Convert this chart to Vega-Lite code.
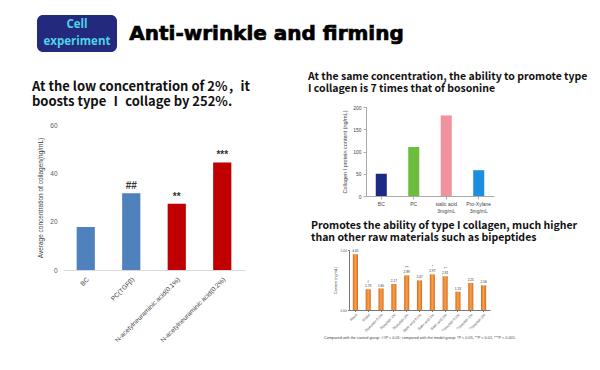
{
  "$schema": "https://vega.github.io/schema/vega-lite/v6.json",
  "background": "white",
  "padding": {"left": 32, "top": 15, "right": 0, "bottom": 0},
  "config": {"view": {"stroke": null}, "font": "Lato", "axis": {"labelFont": "Liberation Sans", "titleFont": "Liberation Sans"}},
  "resolve": {"scale": {"color": "independent"}},
  "spacing": 19,
  "vconcat": [
    {
      "spacing": 11,
      "hconcat": [
        {
          "width": 80,
          "height": 37,
          "view": {"fill": "#232a7e", "cornerRadius": 6, "stroke": null},
          "data": {"values": [{"t": "Cell", "r": "1"}, {"t": "experiment", "r": "2"}]},
          "mark": {"type": "text", "font": "Open Sans", "fontWeight": "bold", "fontSize": 11.5, "color": "#4fd3e6"},
          "encoding": {
            "y": {"field": "r", "type": "nominal", "axis": null, "scale": {"padding": 0.65}},
            "text": {"field": "t"}
          }
        },
        {
          "width": 277,
          "height": 37,
          "data": {"values": [{"t": "Anti-wrinkle and firming"}]},
          "mark": {"type": "text", "font": "DejaVu Sans", "fontWeight": "bold", "fontSize": 20, "color": "#000000", "stroke": "#000000", "strokeWidth": 0.7},
          "encoding": {"text": {"field": "t"}}
        }
      ]
    },
    {
      "spacing": 58,
      "resolve": {"scale": {"color": "independent"}},
      "hconcat": [
        {
          "spacing": -6,
          "hconcat": [
            {"width": 1, "height": 1, "data": {"values": []}, "mark": "point", "encoding": {}},
            {
              "spacing": 13,
              "vconcat": [
                {
                  "width": 1,
                  "height": 1,
                  "title": {
                    "text": ["At the low concentration of 2%，it", "boosts type Ⅰ collage by 252%."],
                    "font": "Noto Sans CJK SC",
                    "fontSize": 13,
                    "fontWeight": "bold",
                    "color": "#111111",
                    "lineHeight": 15,
                    "anchor": "start",
                    "frame": "group",
                    "dx": -31,
                    "offset": -2
                  },
                  "data": {"values": []},
                  "mark": "point",
                  "encoding": {}
                },
                {
                  "width": 182,
                  "height": 145,
                  "data": {"values": [
                    {"g": "BC", "v": 17.8, "k": "ctrl", "s": ""},
                    {"g": "PC(TGFβ)", "v": 31.8, "k": "ctrl", "s": "##"},
                    {"g": "N-acetylneuraminic acid(0.1%)", "v": 27.4, "k": "sample", "s": "**"},
                    {"g": "N-acetylneuraminic acid(0.2%)", "v": 44.5, "k": "sample", "s": "***"}
                  ]},
                  "encoding": {
                    "x": {"field": "g", "type": "nominal", "sort": null,
                          "scale": {"paddingInner": 0.6, "paddingOuter": 0.3},
                          "axis": {"labelAngle": -45, "labelFontSize": 6.5, "labelColor": "#404040", "ticks": false, "domainColor": "#d9d9d9", "title": null, "labelPadding": 6}}
                  },
                  "layer": [
                    {
                      "mark": {"type": "bar"},
                      "encoding": {
                        "y": {"field": "v", "type": "quantitative", "scale": {"domain": [0, 60]},
                              "axis": {"values": [0, 20, 40, 60], "grid": false, "domain": false, "ticks": false, "labelFontSize": 6.5, "labelColor": "#595959", "labelPadding": 6, "title": "Average concentration of collagen(ng/mL)", "titleFontSize": 6.5, "titleFontWeight": "normal", "titleColor": "#404040", "titlePadding": 6}},
                        "color": {"field": "k", "type": "nominal", "scale": {"domain": ["ctrl", "sample"], "range": ["#4f81bd", "#c00000"]}, "legend": null}
                      }
                    },
                    {
                      "mark": {"type": "text", "dy": -7, "fontSize": 10, "fontWeight": "bold", "color": "#333333", "font": "Liberation Sans"},
                      "encoding": {
                        "y": {"field": "v", "type": "quantitative"},
                        "text": {"field": "s"}
                      }
                    }
                  ]
                }
              ]
            }
          ]
        },
        {
          "spacing": 7,
          "resolve": {"scale": {"color": "independent"}},
          "vconcat": [
            {
              "spacing": -42,
              "hconcat": [
                {"width": 1, "height": 1, "data": {"values": []}, "mark": "point", "encoding": {}},
                {
                  "width": 128,
                  "height": 89,
                  "title": {
                    "text": ["At the same concentration, the ability to promote type", "I collagen is 7 times that of bosonine"],
                    "anchor": "start",
                    "frame": "group",
                    "dx": -58,
                    "font": "Noto Sans CJK SC",
                    "fontSize": 10.5,
                    "lineHeight": 12,
                    "fontWeight": "bold",
                    "color": "#111111",
                    "offset": 11
                  },
                  "data": {"values": [
                    {"g": "BC", "v": 50},
                    {"g": "PC", "v": 110},
                    {"g": "sialic acid|3mg/mL", "v": 181},
                    {"g": "Pro-Xylane|3mg/mL", "v": 58}
                  ]},
                  "mark": {"type": "bar"},
                  "encoding": {
                    "x": {"field": "g", "type": "nominal", "sort": null,
                          "scale": {"paddingInner": 0.66, "paddingOuter": 0.3},
                          "axis": {"labelAngle": 0, "labelFontSize": 5, "labelColor": "#444444", "labelExpr": "split(datum.label, '|')", "tickSize": 3, "domainColor": "#aaaaaa", "tickColor": "#aaaaaa", "title": null, "labelPadding": 2}},
                    "y": {"field": "v", "type": "quantitative", "scale": {"domain": [0, 200]},
                          "axis": {"values": [0, 50, 100, 150, 200], "grid": false, "labelFontSize": 5, "labelColor": "#444444", "tickSize": 3, "domainColor": "#aaaaaa", "tickColor": "#aaaaaa", "title": "Collagen I protein content (ng/mL)", "titleFontSize": 5.5, "titleFontWeight": "normal", "titleColor": "#444444", "titlePadding": 5}},
                    "color": {"field": "g", "type": "nominal", "sort": null, "scale": {"range": ["#1c2a84", "#6cbd3b", "#f0939c", "#1b8ee0"]}, "legend": null}
                  }
                }
              ]
            },
            {
              "width": 141,
              "height": 60,
              "title": {
                "text": ["Promotes the ability of type I collagen, much higher", "than other raw materials such as bipeptides"],
                "anchor": "start",
                "frame": "group",
                "dx": -38,
                "font": "Noto Sans CJK SC",
                "fontSize": 10.5,
                "lineHeight": 12,
                "fontWeight": "bold",
                "color": "#111111",
                "offset": 2
              },
              "data": {"values": [
                {"g": "Blank", "v": 4.65, "t": "4.65", "s": ""},
                {"g": "Model", "v": 1.73, "t": "1.73", "s": "#"},
                {"g": " ", "v": null, "t": "", "s": ""},
                {"g": "Dipeptide 0.5%", "v": 1.8, "t": "1.80", "s": ""},
                {"g": "Dipeptide 1%", "v": 2.17, "t": "2.17", "s": ""},
                {"g": "Dipeptide 2%", "v": 2.89, "t": "2.89", "s": "***"},
                {"g": "  ", "v": null, "t": "", "s": ""},
                {"g": "Sialic acid 0.5%", "v": 2.47, "t": "2.47", "s": ""},
                {"g": "Sialic acid 1%", "v": 2.97, "t": "2.97", "s": "*"},
                {"g": "Sialic acid 2%", "v": 2.81, "t": "2.81", "s": "**"},
                {"g": "   ", "v": null, "t": "", "s": ""},
                {"g": "Tripeptide 0.5%", "v": 1.53, "t": "1.53", "s": ""},
                {"g": "Tripeptide 1%", "v": 2.25, "t": "2.25", "s": ""},
                {"g": "Tripeptide 2%", "v": 2.06, "t": "2.06", "s": ""}
              ]},
              "encoding": {
                "x": {"field": "g", "type": "nominal", "sort": null,
                      "scale": {"paddingInner": 0.6, "paddingOuter": 0.3},
                      "axis": {"labelAngle": -45, "labelFontSize": 3.5, "labelColor": "#555555", "tickSize": 1.5, "domainColor": "#777777", "tickColor": "#777777", "labelPadding": 1,
                               "title": "Compared with the control group: ##P < 0.01; compared with the model group: *P < 0.05, **P < 0.01, ***P < 0.001.", "titleFontSize": 3.8, "titleFontWeight": "normal", "titleColor": "#444444", "titlePadding": 3}},
                "y": {"field": "v", "type": "quantitative", "scale": {"domain": [0, 5]}}
              },
              "layer": [
                {
                  "mark": {"type": "bar", "color": {"gradient": "linear", "x1": 0, "x2": 1, "y1": 0, "y2": 0, "stops": [{"offset": 0, "color": "#d96a1c"}, {"offset": 0.5, "color": "#f7a24e"}, {"offset": 1, "color": "#d96a1c"}]}},
                  "encoding": {
                    "y": {"field": "v", "type": "quantitative",
                          "axis": {"values": [0, 0.25, 0.5, 0.75, 1, 1.25, 1.5, 1.75, 2, 2.25, 2.5, 2.75, 3, 3.25, 3.5, 3.75, 4, 4.25, 4.5, 4.75, 5], "format": ".2f", "grid": false, "labelFontSize": 3.3, "labelColor": "#555555", "tickSize": 1.5, "domainColor": "#777777", "tickColor": "#777777", "labelPadding": 1,
                                   "title": "Content (ng/mL)", "titleFontSize": 3.8, "titleFontWeight": "normal", "titleColor": "#444444", "titlePadding": 3}}
                  }
                },
                {
                  "mark": {"type": "text", "dy": -3, "fontSize": 3.2, "color": "#333333", "font": "Liberation Sans"},
                  "encoding": {"text": {"field": "t"}}
                },
                {
                  "mark": {"type": "text", "dy": -7, "fontSize": 3.5, "color": "#333333", "font": "Liberation Sans"},
                  "encoding": {"text": {"field": "s"}}
                }
              ]
            }
          ]
        }
      ]
    }
  ]
}
